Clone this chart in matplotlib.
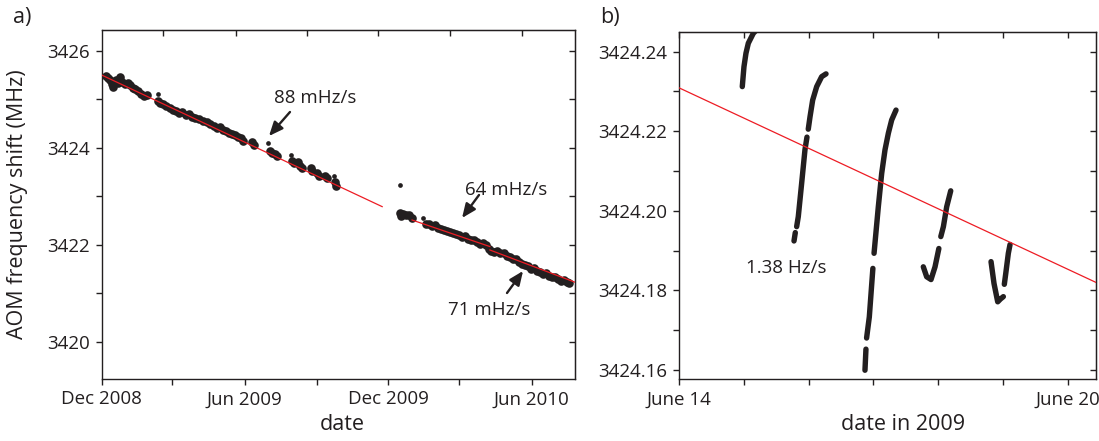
import numpy as np
import matplotlib
matplotlib.use("Agg")
import matplotlib.pyplot as plt
import matplotlib.dates as mdates
from matplotlib.ticker import MultipleLocator

plt.rcParams['font.family'] = ['Open Sans', 'DejaVu Sans']

INK = '#231F20'
RED = '#ED1C24'

# ---- panel a: long-term drift, days since 2008-12-01 ----
a_epoch = np.datetime64('2008-12-01')
a_days = [5.6, 8.1, 10.7, 13.2, 14.5, 18.3, 20.9, 23.4, 26.0, 29.8, 33.6, 36.1,
          40.0, 42.5, 46.3, 50.1, 53.9, 57.8, 71.8, 74.3, 78.1, 81.9, 87.0, 90.8,
          94.7, 98.5, 102.3, 107.4, 111.2, 115.0, 118.8, 123.9, 129.0, 134.1,
          137.9, 143.0, 146.8, 150.6, 154.4, 158.3, 162.1, 165.9, 169.7, 173.5,
          177.4, 179.9, 191.3, 193.9, 214.3, 216.8, 220.6, 223.2, 242.3, 244.9,
          249.9, 252.5, 255.0, 266.5, 267.8, 274.1, 276.7, 284.3, 286.8, 297.0,
          298.3,
          379.6, 380.9, 383.5, 387.3, 391.1, 394.9, 412.7, 416.6, 420.4, 424.2,
          428.0, 431.8, 435.7, 439.5, 443.3, 447.1, 451.0, 454.8, 458.6, 462.4,
          466.2, 470.1, 473.9, 477.7, 481.5, 485.4, 489.2, 493.0, 495.5, 499.3,
          503.2, 507.0, 512.1, 515.9, 519.7, 523.5, 527.4, 531.2, 535.0, 538.8,
          542.6, 546.5, 550.3, 554.1, 557.9, 561.8, 565.6, 569.4, 573.2, 577.0,
          580.9, 584.7, 588.5, 592.3, 594.9]
a_vals = [3425.49, 3425.44, 3425.40, 3425.32, 3425.26, 3425.40, 3425.34, 3425.46,
          3425.36, 3425.32, 3425.34, 3425.30, 3425.24, 3425.22, 3425.18, 3425.11,
          3425.07, 3425.09, 3424.97, 3424.93, 3424.91, 3424.87, 3424.83, 3424.78,
          3424.76, 3424.72, 3424.74, 3424.68, 3424.70, 3424.64, 3424.62, 3424.60,
          3424.56, 3424.54, 3424.50, 3424.45, 3424.41, 3424.43, 3424.37, 3424.35,
          3424.31, 3424.29, 3424.27, 3424.23, 3424.21, 3424.14, 3424.12, 3424.06,
          3423.94, 3423.90, 3423.88, 3423.84, 3423.73, 3423.69, 3423.71, 3423.63,
          3423.59, 3423.59, 3423.53, 3423.49, 3423.42, 3423.42, 3423.38, 3423.30,
          3423.22,
          3422.66, 3422.60, 3422.64, 3422.62, 3422.62, 3422.56, 3422.43, 3422.43,
          3422.39, 3422.41, 3422.35, 3422.33, 3422.31, 3422.29, 3422.27, 3422.25,
          3422.23, 3422.21, 3422.17, 3422.19, 3422.12, 3422.10, 3422.10, 3422.06,
          3422.02, 3422.04, 3422.00, 3421.92, 3421.88, 3421.86, 3421.88, 3421.84,
          3421.84, 3421.77, 3421.75, 3421.71, 3421.71, 3421.65, 3421.61, 3421.59,
          3421.57, 3421.51, 3421.53, 3421.46, 3421.44, 3421.40, 3421.42, 3421.36,
          3421.34, 3421.34, 3421.30, 3421.26, 3421.28, 3421.24, 3421.22]
# isolated readings off the main band
a_stray_days = [71.8, 211.7, 241.0, 295.8, 379.6, 408.9]
a_stray_vals = [3425.11, 3424.10, 3423.86, 3423.42, 3423.24, 3422.56]

# piecewise linear fits: start/end day, start value (MHz), slope (mHz/s)
fit_start = [0, 395, 494]
fit_end = [357, 494, 602.3]
fit_v0 = [3425.505, 3422.515, 3421.897]
fit_slope = [88, 64, 71]

# ---- panel b: a few days in June 2009, days since June 14 ----
b_epoch = np.datetime64('2009-06-14')
b_streaks = [
    ([0.977, 1.003, 1.034, 1.070, 1.147, 1.199],
     [3424.2312, 3424.2362, 3424.2396, 3424.2421, 3424.2446, 3424.2455]),
    ([1.775, 1.795], [3424.1924, 3424.1945]),
    ([1.816, 1.841, 1.893, 1.944, 1.975],
     [3424.1960, 3424.1985, 3424.2069, 3424.2153, 3424.2185]),
    ([1.995, 2.022, 2.063, 2.125, 2.202, 2.269],
     [3424.2205, 3424.2236, 3424.2278, 3424.2312, 3424.2337, 3424.2344]),
    ([2.870, 2.885], [3424.1599, 3424.1652]),
    ([2.895, 2.937, 2.992], [3424.1680, 3424.1733, 3424.1855]),
    ([3.010, 3.076, 3.128, 3.179, 3.231, 3.282, 3.349],
     [3424.1893, 3424.2010, 3424.2094, 3424.2153, 3424.2195, 3424.2228, 3424.2253]),
    ([3.770, 3.822, 3.889, 3.951, 4.010],
     [3424.1859, 3424.1834, 3424.1827, 3424.1859, 3424.1905]),
    ([4.040, 4.080, 4.131, 4.193],
     [3424.1935, 3424.1960, 3424.2010, 3424.2050]),
    ([4.815, 4.861, 4.918, 4.960, 5.005],
     [3424.1872, 3424.1817, 3424.1771, 3424.1778, 3424.1784]),
    ([5.020, 5.042, 5.082, 5.108],
     [3424.1815, 3424.1842, 3424.1893, 3424.1915]),
]
b_fit_v0 = 3424.2309
b_fit_slope = 88  # mHz/s
b_span = 6.435


def to_num(epoch, days):
    return mdates.date2num(epoch) + np.asarray(days, dtype=float)


def mhz_per_day(slope_mhz_per_s):
    return slope_mhz_per_s * 1e-3 * 86400 / 1e6


def style_axes(ax):
    for sp in ax.spines.values():
        sp.set_color(INK)
        sp.set_linewidth(1.0)
    ax.tick_params(which='both', direction='out', length=4.5, width=1.0,
                   color=INK, labelcolor=INK, labelsize=13.5, pad=4)


fig = plt.figure(figsize=(10.99, 4.41), dpi=100)
ax_a = fig.add_axes([0.0924, 0.1417, 0.4308, 0.7903])
ax_b = fig.add_axes([0.6178, 0.1406, 0.3795, 0.7875])

# --- panel a ---
for d0, d1, v0, s in zip(fit_start, fit_end, fit_v0, fit_slope):
    dd = np.array([d0, d1])
    ax_a.plot(to_num(a_epoch, dd), v0 - mhz_per_day(s) * (dd - d0),
              color=RED, lw=0.9, zorder=3)
ax_a.plot(to_num(a_epoch, a_days), a_vals, 'o', color=INK, ms=6.2, mew=0, zorder=2)
ax_a.plot(to_num(a_epoch, a_stray_days), a_stray_vals, 'o', color=INK, ms=3.4,
          mew=0, zorder=2)

ax_a.set_xlim(to_num(a_epoch, [0, 602.3]))
ax_a.set_ylim(3419.247, 3426.433)
ax_a.xaxis.set_major_locator(mdates.MonthLocator(bymonth=[6, 12]))
ax_a.xaxis.set_minor_locator(mdates.MonthLocator(bymonth=[3, 9]))
ax_a.xaxis.set_major_formatter(mdates.DateFormatter('%b %Y'))
ax_a.yaxis.set_major_locator(MultipleLocator(2))
ax_a.yaxis.set_minor_locator(MultipleLocator(1))
style_axes(ax_a)

top_a = ax_a.secondary_xaxis('top')
top_a.set_xticks(to_num(a_epoch, [78, 171, 261, 352, 443, 535]))
top_a.tick_params(direction='in', length=4, width=1.0, color=INK, labeltop=False)
right_a = ax_a.secondary_yaxis('right')
right_a.set_yticks(np.arange(3420, 3427, 1))
right_a.tick_params(direction='in', length=4.5, width=1.0, color=INK, labelright=False)

arrow_kw = dict(arrowstyle='-|>,head_length=0.7,head_width=0.3', lw=1.7,
                color=INK, shrinkA=0, shrinkB=0, mutation_scale=12)
ax_a.annotate('', xy=(to_num(a_epoch, 213.0), 3424.247),
              xytext=(to_num(a_epoch, 239.7), 3424.742), arrowprops=arrow_kw)
ax_a.text(to_num(a_epoch, 271.5), 3425.03, '88 mHz/s', ha='center', va='center',
          fontsize=13.5, color=INK)
ax_a.annotate('', xy=(to_num(a_epoch, 458.6), 3422.557),
              xytext=(to_num(a_epoch, 480.2), 3423.031), arrowprops=arrow_kw)
ax_a.text(to_num(a_epoch, 514.5), 3423.134, '64 mHz/s', ha='center', va='center',
          fontsize=13.5, color=INK)
ax_a.annotate('', xy=(to_num(a_epoch, 536.2), 3421.464),
              xytext=(to_num(a_epoch, 515.8), 3421.01), arrowprops=arrow_kw)
ax_a.text(to_num(a_epoch, 492.9), 3420.66, '71 mHz/s', ha='center', va='center',
          fontsize=13.5, color=INK)

# --- panel b ---
bb = np.array([0, b_span])
ax_b.plot(to_num(b_epoch, bb), b_fit_v0 - mhz_per_day(b_fit_slope) * bb,
          color=RED, lw=0.9, zorder=3)
for days, vals in b_streaks:
    ax_b.plot(to_num(b_epoch, days), vals, '-', color=INK, lw=3.9,
              solid_capstyle='round', zorder=2)

ax_b.set_xlim(to_num(b_epoch, [0, b_span]))
ax_b.set_ylim(3424.1577, 3424.245)
b_ticks = to_num(b_epoch, np.arange(7))
ax_b.set_xticks(b_ticks)
ax_b.set_xticklabels(['June 14', '', '', '', '', '', 'June 20'])
ax_b.yaxis.set_major_locator(MultipleLocator(0.02))
ax_b.yaxis.set_minor_locator(MultipleLocator(0.01))
ax_b.yaxis.set_major_formatter(plt.FormatStrFormatter('%.2f'))
style_axes(ax_b)

top_b = ax_b.secondary_xaxis('top')
top_b.set_xticks(b_ticks)
top_b.tick_params(direction='in', length=4, width=1.0, color=INK, labeltop=False)
right_b = ax_b.secondary_yaxis('right')
right_b.set_yticks(np.arange(3424.16, 3424.245, 0.01))
right_b.tick_params(direction='in', length=4.5, width=1.0, color=INK, labelright=False)

ax_b.text(to_num(b_epoch, 1.651), 3424.1856, '1.38 Hz/s', ha='center', va='center',
          fontsize=13.5, color=INK)

# --- labels ---
fig.text(18 / 1099, 0.537, 'AOM frequency shift (MHz)', rotation=90,
         ha='center', va='center', fontsize=15.5, color=INK)
fig.text(342 / 1099, 1 - 424 / 441, 'date', ha='center', va='center',
         fontsize=15.5, color=INK)
fig.text(903 / 1099, 1 - 424 / 441, 'date in 2009', ha='center', va='center',
         fontsize=15.5, color=INK)
fig.text(22 / 1099, 1 - 17 / 441, 'a)', ha='center', va='center',
         fontsize=15.5, color=INK)
fig.text(610 / 1099, 1 - 17 / 441, 'b)', ha='center', va='center',
         fontsize=15.5, color=INK)

fig.savefig('out.png', dpi=100)
